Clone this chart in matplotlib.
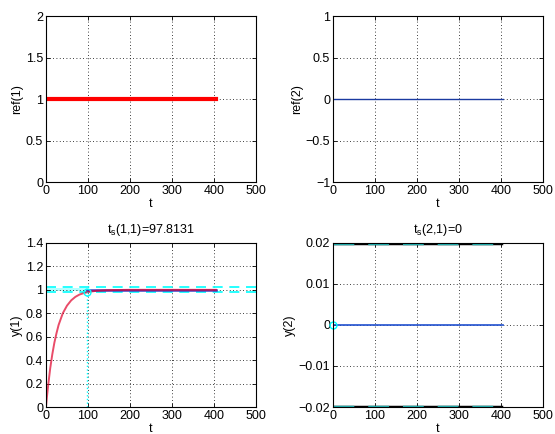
import numpy as np
import matplotlib.pyplot as plt

plt.rcParams['font.family'] = ['Liberation Sans', 'DejaVu Sans']
plt.rcParams['font.size'] = 9
plt.rcParams['mathtext.fontset'] = 'custom'
plt.rcParams['mathtext.rm'] = 'Liberation Sans'
plt.rcParams['mathtext.it'] = 'Liberation Sans'

# simulation horizon and reference values
t_ref = [0, 405]
ref1 = [1, 1]
ref2 = [0, 0]

# output y(1)
t_y1 = [0, 2, 5, 10, 15, 20, 25, 30, 40, 50, 60, 70, 80, 90, 100, 120, 140, 160, 200, 300, 405]
y1 = [0, 0.08, 0.18, 0.33, 0.45, 0.55, 0.63, 0.70, 0.80, 0.865, 0.91, 0.94, 0.96, 0.972, 0.981, 0.992, 0.996, 0.998, 1.0, 1.0, 1.0]
t_y2 = [0, 405]
y2 = [0, 0]

# settling data
ts1 = 97.8131
ts2 = 0
band = 0.02

fig = plt.figure(figsize=(5.55, 4.34), dpi=100)
ax1 = fig.add_axes([0.0829, 0.5806, 0.378, 0.3825])
ax2 = fig.add_axes([0.600, 0.5806, 0.378, 0.3825])
ax3 = fig.add_axes([0.0829, 0.0622, 0.378, 0.378])
ax4 = fig.add_axes([0.600, 0.0622, 0.378, 0.378])

def style(ax, ylabel):
    ax.set_xlim(0, 500)
    ax.set_xticks([0, 100, 200, 300, 400, 500])
    ax.grid(True, linestyle=(0, (1, 3)), color='black', linewidth=0.6)
    ax.tick_params(direction='in', top=True, right=True, length=3, width=0.6, pad=2)
    for s in ax.spines.values():
        s.set_linewidth(0.8)
    ax.set_xlabel('t', labelpad=1)
    ax.set_ylabel(ylabel, labelpad=2)

# ref(1)
ax1.plot(t_ref, ref1, color='red', linewidth=3)
ax1.set_ylim(0, 2)
ax1.set_yticks([0, 0.5, 1, 1.5, 2])
ax1.set_yticklabels(['0', '0.5', '1', '1.5', '2'])
style(ax1, 'ref(1)')

# ref(2)
ax2.plot(t_ref, ref2, color='#1a3aa0', linewidth=1)
ax2.set_ylim(-1, 1)
ax2.set_yticks([-1, -0.5, 0, 0.5, 1])
ax2.set_yticklabels(['\u22121', '\u22120.5', '0', '0.5', '1'])
style(ax2, 'ref(2)')

# y(1)
ax3.fill_between([0, ts1], 1 - band * 0.7, 1 + band * 0.7, color='cyan', alpha=0.3, linewidth=0)
ax3.axhline(1 - band, color='cyan', linestyle=(0, (6, 4)), linewidth=1.2)
ax3.axhline(1 + band, color='cyan', linestyle=(0, (6, 4)), linewidth=1.2)
ax3.plot([ts1, t_ref[1]], [1, 1], color='#4040c0', linewidth=1.8)
ax3.plot(t_y1, y1, color='#e0002a', linewidth=1.4, alpha=0.7)
ax3.plot([ts1, ts1], [0, 1 - band], color='cyan', linestyle=':', linewidth=1)
ax3.plot([ts1], [1 - band], 'o', mfc='none', mec='cyan', markersize=5)
ax3.set_ylim(0, 1.4)
ax3.set_yticks([0, 0.2, 0.4, 0.6, 0.8, 1, 1.2, 1.4])
ax3.set_yticklabels(['0', '0.2', '0.4', '0.6', '0.8', '1', '1.2', '1.4'])
ax3.set_title(r't$_\mathregular{s}$(1,1)=97.8131', fontsize=9, pad=7)
style(ax3, 'y(1)')

# y(2)
ax4.plot([0, 400], [band, band], color='black', linewidth=2.5)
ax4.plot([0, 400], [-band, -band], color='black', linewidth=2.5)
ax4.plot([0, 400], [band, band], color='#20b0b0', linestyle=(0, (6, 4)), linewidth=2.5)
ax4.plot([0, 400], [-band, -band], color='#20b0b0', linestyle=(0, (6, 4)), linewidth=2.5)
ax4.plot(t_y2, y2, color='#2050d0', linewidth=1.2)
ax4.plot([ts2], [0], 'o', mfc='none', mec='cyan', markersize=5, clip_on=False)
ax4.set_ylim(-0.02, 0.02)
ax4.set_yticks([-0.02, -0.01, 0, 0.01, 0.02])
ax4.set_yticklabels(['\u22120.02', '\u22120.01', '0', '0.01', '0.02'])
ax4.set_title(r't$_\mathregular{s}$(2,1)=0', fontsize=9, pad=7)
style(ax4, 'y(2)')

fig.savefig('out.png', dpi=100)
